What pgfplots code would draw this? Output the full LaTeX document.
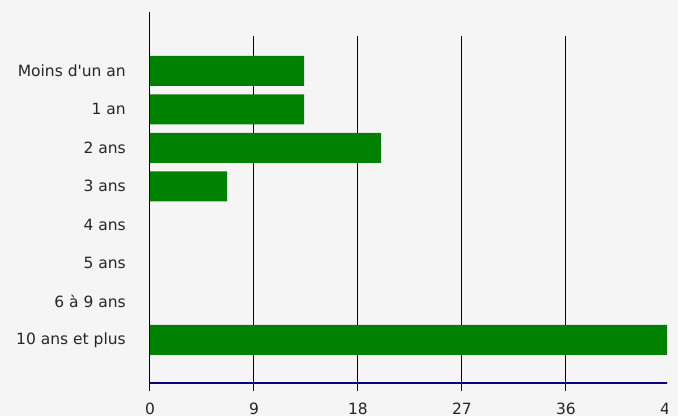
\documentclass[border=0pt]{standalone}
\usepackage{pgfplots}
\pgfplotsset{compat=1.18}
\usepackage{fontspec}
\setmainfont{DejaVu Sans}
\definecolor{bg}{RGB}{245,245,245}
\definecolor{bargreen}{RGB}{0,128,0}
\definecolor{axnavy}{RGB}{0,0,128}
\begin{document}
\begin{tikzpicture}[x=1pt,y=1pt]
\useasboundingbox (-150,-33) rectangle (528,383);
\fill[bg] (-150,-33) rectangle (528,383);
\begin{scope}
\clip (-150,-33) rectangle (517,383);
\begin{axis}[
  at={(0,0)}, anchor=south west,
  scale only axis, width=520pt, height=347pt,
  xmin=0, xmax=45, ymin=-0.91, ymax=8.12, y dir=reverse,
  xtick={0,9,18,27,36,45},
  ytick={0,1,2,3,4,5,6,7},
  yticklabels={Moins d\textquotesingle un an,1 an,2 ans,3 ans,4 ans,5 ans,6 à 9 ans,10 ans et plus},
  /pgf/number format/assume math mode=true,
  xmajorgrids, major grid style={black, line width=1pt},
  axis x line*=bottom, axis y line*=left,
  x axis line style={axnavy, line width=1.2pt, -},
  y axis line style={draw=none},
  tick align=outside, major tick length=8pt,
  xtick style={black, line width=1pt},
  ytick style={draw=none},
  tick label style={font=\fontsize{15.5}{18}\selectfont, text=black!85},
  x tick label style={inner sep=0pt, yshift=-12pt},
  y tick label style={inner sep=0pt, xshift=-16pt},
  clip=true,
]
\addplot[xbar, bar width=30pt, bar shift=0pt, fill=bargreen, draw=none] coordinates {
  (13.33,0) (13.33,1) (20,2) (6.67,3) (0,4) (0,5) (0,6) (46.67,7)
};
\end{axis}
\draw[black, line width=1pt] (0,-8) -- (0,371);
\end{scope}
\end{tikzpicture}
\end{document}
